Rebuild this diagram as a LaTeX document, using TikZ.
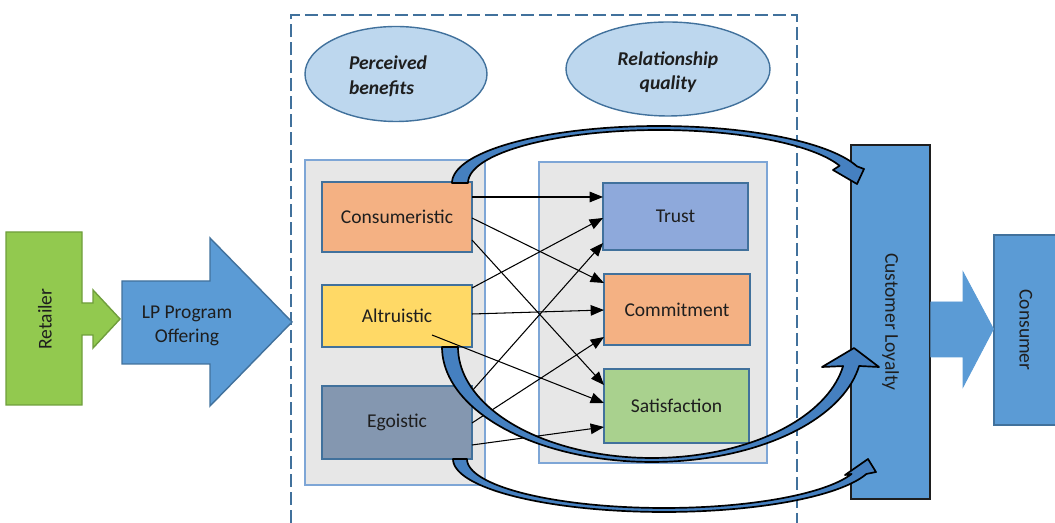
\documentclass[tikz,border=0pt]{standalone}
\usepackage{fontspec}
\setmainfont{Carlito}
\usetikzlibrary{arrows.meta,calc,shapes.geometric}

\definecolor{lpblue}{HTML}{5B9BD5}
\definecolor{edgeblue}{HTML}{41719C}
\definecolor{paleblue}{HTML}{BDD7EE}
\definecolor{panelgray}{HTML}{E7E7E7}
\definecolor{panelline}{HTML}{7EA6D6}
\definecolor{peach}{HTML}{F4B183}
\definecolor{gold}{HTML}{FFD966}
\definecolor{slate}{HTML}{8497B0}
\definecolor{trustblue}{HTML}{8EA9DB}
\definecolor{leaf}{HTML}{A9D18E}
\definecolor{retgreen}{HTML}{92C94F}
\definecolor{retedge}{HTML}{6F9E3C}
\definecolor{bandblue}{HTML}{4580C0}
\definecolor{ink}{HTML}{1E1E1E}

\tikzset{
  wh/.style 2 args={minimum width=#1*0.025cm, minimum height=#2*0.025cm},
  factor/.style={draw=edgeblue, line width=1.3pt, inner sep=0pt, outer sep=0pt},
  panel/.style={draw=panelline, fill=panelgray, line width=1pt},
  bubble/.style={ellipse, draw=edgeblue, fill=paleblue, line width=1pt, inner sep=0pt},
  link/.style={draw=black, line width=0.75pt, -{Triangle[length=9.5pt,width=7.5pt]}},
  band/.style={fill=bandblue, draw=black, line width=1.2pt, line join=round},
  bigarrow/.style={fill=lpblue, draw=edgeblue, line width=1pt, line join=miter},
  titletext/.style={font=\fontsize{13.9}{17.5}\selectfont\bfseries\itshape}
}

\begin{document}
\begin{tikzpicture}[x=0.025cm, y=-0.025cm,
    font=\fontsize{13.9}{16.5}\selectfont, text=ink]
\useasboundingbox (0,0) rectangle (1055,523);

% dashed frame around the two construct groups
\draw[edgeblue, line width=1.9pt, dash pattern=on 9pt off 3.8pt]
  (291,523) -- (291,15) -- (797,15) -- (797,523);

% group headings
\node[bubble, wh={182}{95}] (pb) at (396,74) {};
\node[titletext, align=left] (pbtext) at (388,76) {Perceived\\benefits};
\node[bubble, wh={204}{94}] (rq) at (668,69) {};
\node[titletext, align=center] (rqtext) at (668,72) {Relationship\\quality};

% grey panels
\draw[panel] (305,160) rectangle (485,485);
\draw[panel] (539,162) rectangle (767,463);

% retailer block with its small arrow
\draw[fill=retgreen, draw=retedge, line width=1pt]
  (6,232) -- (82,232) -- (82,303) -- (93,303) -- (93,290) -- (120,319)
  -- (93,348) -- (93,335) -- (82,335) -- (82,405) -- (6,405) -- cycle;
\node[rotate=90] (retailer) at (45,319) {Retailer};

% LP programme arrow
\draw[bigarrow] (122,281) -- (210,281) -- (210,238) -- (292,322)
  -- (210,406) -- (210,364) -- (122,364) -- cycle;
\node[align=center] (lp) at (187,326) {LP Program\\Offering};

% perceived benefits
\node[factor, fill=peach, wh={150}{70}] (cons) at (397,217) {Consumeristic};
\node[factor, fill=gold,  wh={150}{62}] (altr) at (397,316) {Altruistic};
\node[factor, fill=slate, wh={150}{73}] (ego)  at (397,422.5) {Egoistic};

% relationship quality
\node[factor, fill=trustblue, wh={145}{67}] (trust)  at (675.5,216.5) {Trust};
\node[factor, fill=peach,     wh={146}{71}] (commit) at (677,309.5) {Commitment};
\node[factor, fill=leaf,      wh={145}{74}] (satis)  at (676.5,406) {Satisfaction};

% customer loyalty and consumer
\node[fill=lpblue, draw=ink, line width=1.2pt, wh={79}{354}] (loyal) at (890.5,322)
  {\rotatebox{-90}{Customer Loyalty}};
\node[fill=lpblue, draw=edgeblue, line width=0.8pt, wh={64}{190}] (consumer) at (1026,330)
  {\rotatebox{-90}{Consumer}};
\draw[fill=lpblue, draw=lpblue, line width=0.6pt]
  (loyal.east |- 0,302) -- (963,302) -- (963,272) -- (consumer.west |- 0,329)
  -- (963,387) -- (963,357) -- (loyal.east |- 0,357) -- cycle;

% benefit -> quality links
\draw[link] (cons.east |- 0,197) -- (trust.west |- 0,197);
\draw[link] (cons.east |- 0,218) -- (commit.west |- 0,283);
\draw[link] (cons.east |- 0,240) -- (satis.west |- 0,385);
\draw[link] (altr.east |- 0,288) -- (trust.west |- 0,218);
\draw[link] (altr.east |- 0,314) -- (commit.west |- 0,310);
\draw[link] ($(altr.center)+(35,19)$) -- (satis.west |- 0,403);
\draw[link] (ego.east |- 0,391) -- (trust.west |- 0,243);
\draw[link] (ego.east |- 0,423) -- (commit.west |- 0,337);
\draw[link] (ego.east |- 0,445) -- (satis.west |- 0,427);

% curved ribbon arrows into customer loyalty
\path[band]
  plot[variable=\t, domain=180:343, samples=80] ({659+207*cos(\t)},{183+57*sin(\t)})
  -- (864,169) -- (857,184) -- (833,170)
  -- plot[variable=\t, domain=341:180, samples=80] ({659+191*cos(\t)},{183+53*sin(\t)})
  -- cycle;
\path[band]
  plot[variable=\t, domain=180:9.5, samples=80] ({652+210*cos(\t)},{347+115*sin(\t)})
  -- (879,367) -- (854,348) -- (822,367)
  -- plot[variable=\t, domain=9.9:180, samples=80] ({652+194*cos(\t)},{347+111*sin(\t)})
  -- cycle;
\path[band]
  plot[variable=\t, domain=180:16.4, samples=80] ({664+211*cos(\t)},{459+53*sin(\t)})
  -- (876,472) -- (868,459) -- (845,475)
  -- plot[variable=\t, domain=17.8:180, samples=80] ({664+197*cos(\t)},{459+49*sin(\t)})
  -- cycle;
\end{tikzpicture}
\end{document}
